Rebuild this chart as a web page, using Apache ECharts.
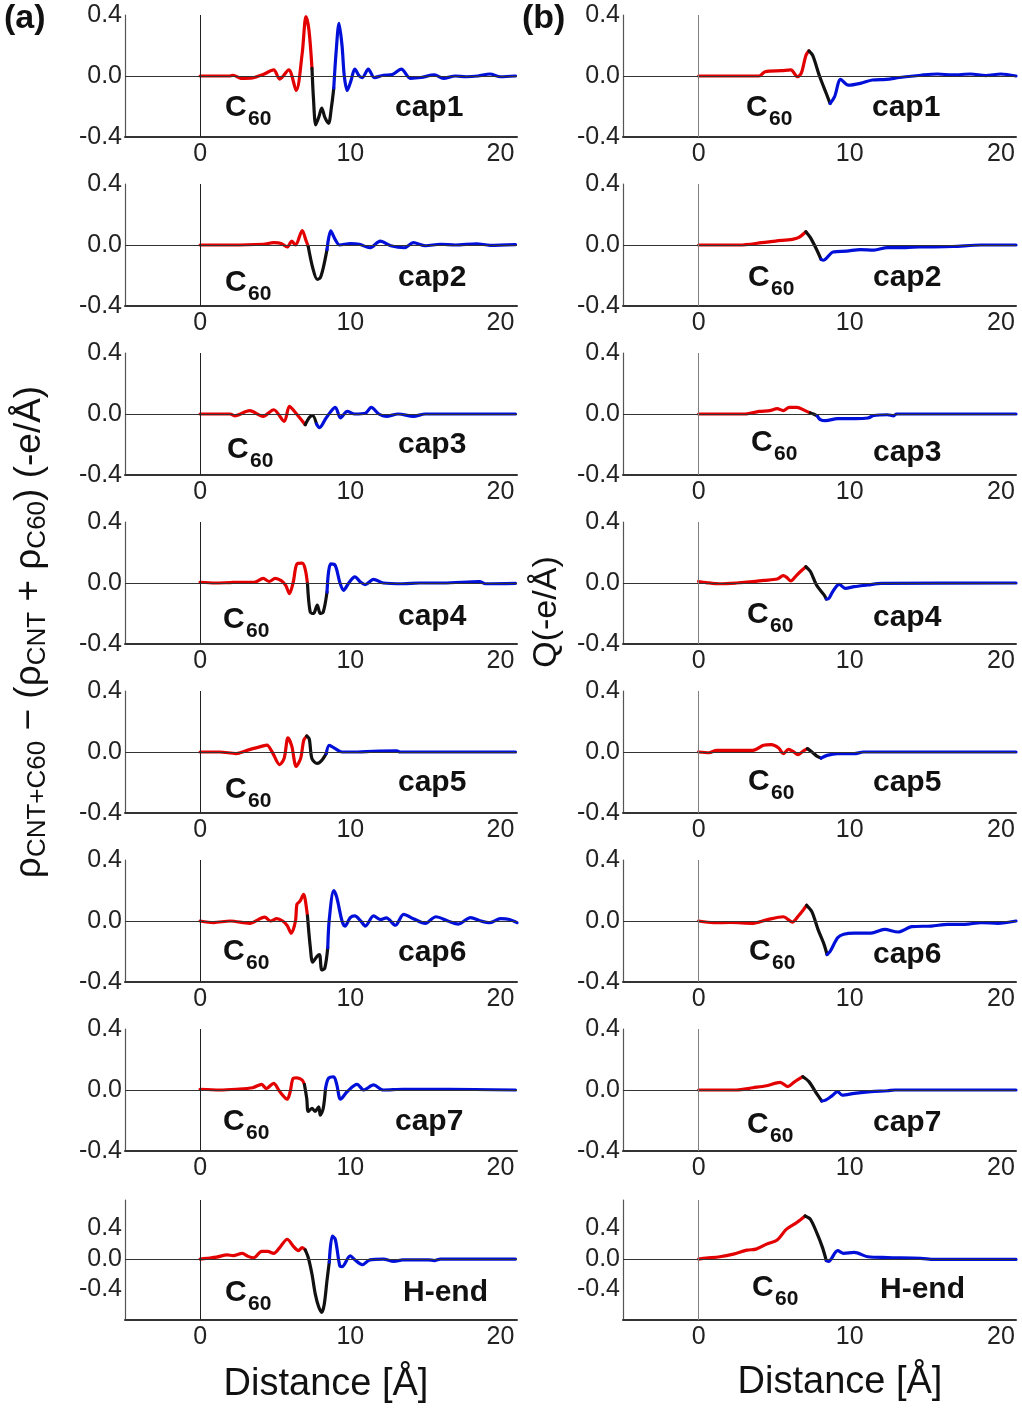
<!DOCTYPE html>
<html>
<head>
<meta charset="utf-8">
<script src="https://cdn.jsdelivr.net/npm/echarts@6.0.0/dist/echarts.min.js"></script>
<style>
  html, body { margin: 0; background: #fff; }
  #chart { width: 1022px; height: 1409px; }
</style>
</head>
<body>
<div id="chart"></div>
<script>
// axis ticks / names
const xTicks = [0, 10, 20];
const yTicks = [-0.4, 0, 0.4];
const panelNames = ["cap1", "cap2", "cap3", "cap4", "cap5", "cap6", "cap7", "H-end"];

// (a) charge density difference, [distance, value]
const rhoCap1 = [[0,0],[1,0],[2,0],[2.2,0.005],[2.7,-0.015],[3.5,-0.012],[4.2,0.01],[4.9,0.04],[5.3,-0.02],[5.9,0.04],[6.4,-0.095],[6.8,0.15],[7.05,0.39],[7.25,0.3],[7.45,0.05],
  [7.55,-0.15],[7.7,-0.32],[7.9,-0.27],[8.1,-0.21],[8.3,-0.27],[8.55,-0.31],[8.75,-0.2],[8.9,-0.08],
  [9.05,0.15],[9.25,0.345],[9.45,0.2],[9.6,0.0],[9.8,-0.095],[10.05,-0.03],[10.3,0.045],[10.6,0.0],[10.8,-0.01],[11.2,0.045],[11.6,-0.01],[12.2,0.005],[12.8,0.01],[13.4,0.045],[14,-0.015],[14.7,-0.01],[15.6,0.007],[16.2,-0.015],[17,0.0],[17.7,-0.005],[18.5,0.0],[19.3,0.013],[20,-0.005],[21,0.0]];
const rhoCap2 = [[0,0],[2,0],[4.2,0.005],[4.9,0.015],[5.4,0.01],[5.8,-0.013],[6.1,0.025],[6.35,0.0],[6.8,0.095],[7.05,0.03],[7.2,-0.01],
  [7.5,-0.15],[7.8,-0.225],[8.0,-0.215],[8.2,-0.15],[8.45,-0.03],
  [8.7,0.092],[9.0,0.035],[9.3,0.0],[10,0.01],[10.6,0.005],[11.3,-0.018],[12,0.025],[12.7,-0.005],[13.6,-0.018],[14.2,0.015],[15,-0.005],[16,0.005],[17,0.0],[18.4,0.008],[19.3,-0.002],[21,0.003]];
const rhoCap3 = [[0,0],[2,0],[2.3,-0.012],[3.3,0.022],[4.2,-0.015],[4.9,0.028],[5.6,-0.048],[5.95,0.05],[6.3,0.015],[7.0,-0.07],
  [7.3,-0.02],[7.5,-0.01],[7.75,-0.065],
  [7.95,-0.09],[8.4,-0.025],[9.0,0.044],[9.35,-0.025],[9.8,0.017],[10.3,0.0],[11,0.005],[11.4,0.044],[11.9,0.0],[12.4,-0.015],[13.2,0.0],[14.2,-0.015],[15,0.0],[21,0.0]];
const rhoCap4 = [[0,0.005],[1,0.0],[2,0.003],[3,0.005],[3.6,0.005],[4.2,0.03],[4.6,0.01],[5.0,0.03],[5.4,0.015],[5.7,-0.015],[5.95,-0.07],[6.2,0.005],[6.45,0.125],[6.8,0.13],[7.0,0.09],[7.15,-0.005],
  [7.33,-0.19],[7.55,-0.2],[7.8,-0.145],[8.0,-0.2],[8.2,-0.19],[8.45,-0.06],
  [8.55,0.07],[8.7,0.125],[9.0,0.115],[9.3,0.005],[9.55,-0.048],[9.9,0.0],[10.3,0.04],[10.7,0.005],[11.0,-0.01],[11.55,0.024],[12.2,0.0],[13.5,-0.005],[14.6,0.0],[16.2,0.0],[18.6,0.01],[19.0,-0.005],[21,-0.002]];
const rhoCap5 = [[0,0],[1.3,0.0],[2.4,-0.01],[3.1,0.01],[4.2,0.04],[4.45,0.045],[4.8,0.0],[5.3,-0.083],[5.6,-0.04],[5.85,0.092],[6.1,0.04],[6.4,-0.094],[6.7,-0.04],[6.9,0.077],[7.1,0.105],
  [7.27,0.085],[7.45,-0.045],[7.8,-0.075],[8.1,-0.055],[8.4,-0.01],
  [8.6,0.044],[9.0,0.022],[9.45,0.0],[10.5,0.0],[11.5,0.005],[13.1,0.008],[13.3,0.0],[21,0.0]];
const rhoCap6 = [[0,0],[0.9,-0.01],[2,0.0],[3.3,-0.015],[4.3,0.026],[4.7,0.0],[5.1,0.015],[5.5,0.0],[5.8,-0.03],[6.07,-0.08],[6.35,0.0],[6.45,0.11],[6.65,0.13],[6.9,0.175],[7.0,0.14],[7.15,0.033],
  [7.33,-0.165],[7.5,-0.27],[7.8,-0.23],[7.95,-0.22],[8.1,-0.32],[8.3,-0.31],[8.5,-0.175],
  [8.6,0.01],[8.9,0.2],[9.1,0.155],[9.45,0.0],[9.65,-0.033],[10,0.022],[10.3,0.033],[10.7,0.0],[11,-0.033],[11.55,0.033],[12,0.01],[12.4,0.02],[13,-0.028],[13.55,0.044],[14.2,0.015],[15,-0.015],[15.7,0.028],[16.5,0.0],[17.2,-0.02],[18,0.022],[18.7,0.0],[19.3,-0.011],[20,0.015],[20.6,0.01],[21.1,-0.011]];
const rhoCap7 = [[0,0.005],[1.3,0.0],[2.4,0.005],[3.5,0.015],[4.1,0.037],[4.4,0.01],[4.9,0.044],[5.3,-0.01],[5.8,-0.06],[6.0,-0.01],[6.2,0.077],[6.45,0.08],[6.8,0.065],[6.95,0.035],
  [7.1,-0.055],[7.2,-0.14],[7.45,-0.12],[7.65,-0.14],[7.9,-0.11],[8.0,-0.165],[8.2,-0.12],[8.35,0.01],
  [8.55,0.077],[8.9,0.087],[9.1,0.035],[9.35,-0.06],[9.8,-0.01],[10.45,0.037],[10.9,0.0],[11.55,0.033],[12.2,0.0],[13.5,0.005],[16.5,0.005],[21,0.0]];
const rhoHend = [[0,0],[0.45,0.01],[1.1,0.025],[1.8,0.055],[2.2,0.045],[2.8,0.075],[3.2,0.035],[3.55,0.015],[4.1,0.1],[4.5,0.1],[4.9,0.075],[5.3,0.15],[5.8,0.26],[6.2,0.17],[6.55,0.11],[6.8,0.15],[7.0,0.12],
  [7.2,0.02],[7.45,-0.2],[7.67,-0.46],[7.9,-0.63],[8.1,-0.7],[8.27,-0.59],[8.45,-0.28],[8.6,-0.04],
  [8.8,0.3],[9.0,0.26],[9.3,-0.09],[9.45,-0.1],[10.0,0.043],[10.3,-0.01],[10.8,-0.075],[11.3,-0.01],[12.2,0.0],[12.9,-0.03],[13.5,-0.01],[15.2,-0.01],[15.6,-0.02],[16,0.0],[21,0.0]];

// (b) integrated charge Q
const qCap1 = [[0,0],[2,0.0],[4.0,0.0],[4.4,0.028],[5.5,0.035],[6.1,0.04],[6.55,-0.005],[6.8,0.02],[7.1,0.135],[7.3,0.165],
  [7.55,0.135],[8.0,0.0],[8.45,-0.115],[8.7,-0.18],
  [9.0,-0.135],[9.4,-0.022],[9.9,-0.06],[10.7,-0.048],[11.5,-0.026],[12.4,-0.022],[13.3,-0.01],[14.7,0.005],[15.8,0.013],[16.8,0.007],[18,0.013],[19,0.003],[20,0.013],[21,0.0]];
const qCap2 = [[0,0],[2.7,0.0],[4.2,0.015],[5.1,0.026],[6.2,0.037],[6.6,0.048],[7.1,0.087],
  [7.4,0.048],[7.8,-0.028],[8.1,-0.094],
  [8.25,-0.1],[8.9,-0.046],[9.8,-0.04],[10.7,-0.03],[11.6,-0.033],[12.5,-0.017],[13.7,-0.017],[14.6,-0.013],[16.8,-0.01],[18.7,0.0],[21,0.0]];
const qCap3 = [[0,0],[3.1,0.0],[4.0,0.017],[4.7,0.022],[5.2,0.035],[5.6,0.022],[6.0,0.044],[6.5,0.044],[7.05,0.022],[7.4,0.007],
  [7.6,0.0],[7.85,-0.012],
  [8.05,-0.037],[8.4,-0.044],[9.2,-0.03],[10.3,-0.03],[11.2,-0.026],[11.6,-0.01],[12.5,-0.005],[12.9,-0.012],[13.1,0.0],[21,0.0]];
const qCap4 = [[0,0.01],[0.5,0.003],[1.4,-0.005],[2.5,0.0],[3.6,0.009],[4.3,0.017],[5.2,0.026],[5.6,0.048],[5.85,0.035],[6.1,0.013],[6.5,0.052],[6.85,0.085],[7.1,0.107],
  [7.4,0.075],[7.8,-0.013],[8.3,-0.078],[8.45,-0.105],
  [8.55,-0.105],[8.9,-0.052],[9.3,-0.009],[9.7,-0.035],[10.3,-0.024],[11.2,-0.013],[12.1,-0.002],[21,0.0]];
const qCap5 = [[0,0],[0.7,-0.005],[1.2,0.011],[3.6,0.011],[4.3,0.044],[4.8,0.048],[5.3,0.026],[5.6,-0.011],[5.95,0.017],[6.3,0.0],[6.6,-0.018],[6.9,0.005],[7.2,0.022],
  [7.5,0.0],[7.8,-0.025],[8.1,-0.04],
  [8.5,-0.022],[9.2,-0.011],[10.3,-0.011],[10.9,0.0],[21,0.0]];
const qCap6 = [[0,0],[1.0,-0.011],[2.1,-0.01],[3.6,-0.015],[4.5,0.007],[5.6,0.028],[6.2,-0.007],[6.6,0.033],[6.95,0.076],[7.15,0.103],
  [7.5,0.06],[7.9,-0.055],[8.3,-0.153],[8.5,-0.22],
  [8.7,-0.2],[9.2,-0.11],[9.6,-0.087],[10.3,-0.08],[11.4,-0.08],[12.3,-0.055],[13.2,-0.072],[14.1,-0.037],[15.4,-0.033],[16.5,-0.022],[17.6,-0.022],[18.7,-0.011],[19.8,-0.015],[21,0.0]];
const qCap7 = [[0,0],[2.5,0.0],[3.6,0.015],[4.5,0.028],[5.4,0.05],[5.9,0.022],[6.3,0.05],[6.9,0.087],
  [7.3,0.055],[7.8,-0.022],[8.15,-0.072],
  [8.4,-0.066],[8.8,-0.04],[9.2,-0.011],[9.5,-0.033],[10.3,-0.022],[11.4,-0.011],[12.5,-0.005],[13,0.0],[21,0.0]];
const qHend = [[0,0],[0.5,0.013],[1.4,0.03],[2.3,0.065],[3.2,0.117],[3.8,0.13],[4.5,0.196],[5.2,0.25],[5.8,0.39],[6.5,0.48],[7.05,0.565],
  [7.4,0.52],[7.85,0.33],[8.2,0.15],[8.45,-0.02],
  [8.6,-0.03],[9.2,0.11],[9.6,0.075],[10.3,0.087],[11.2,0.03],[12.5,0.02],[14.7,0.01],[15.6,-0.005],[21,-0.005]];

// distance where the curve turns red -> black and black -> blue
const rhoCuts = [[7.45,8.9],[7.2,8.45],[7.0,7.75],[7.15,8.45],[7.1,8.4],[7.15,8.5],[6.95,8.35],[7.0,8.6]];
const qCuts = [[7.3,8.7],[7.1,8.1],[7.4,7.85],[7.1,8.45],[7.2,8.1],[7.15,8.5],[6.9,8.15],[7.05,8.45]];

const rhoCurves = [rhoCap1, rhoCap2, rhoCap3, rhoCap4, rhoCap5, rhoCap6, rhoCap7, rhoHend];
const qCurves = [qCap1, qCap2, qCap3, qCap4, qCap5, qCap6, qCap7, qHend];

// label placement: [C60 left, C60 baseline, name left, name baseline]
const rhoLabelPos = [[225,118,395,118],[225,293,398,288],[227,460,398,455],[223,630,398,627],[225,800,398,793],[223,962,398,963],[223,1132,395,1132],[225,1303,403,1303]];
const qLabelPos = [[746,118,872,118],[748,288,873,288],[751,453,873,463],[747,625,873,628],[748,792,873,793],[749,962,873,965],[747,1135,873,1133],[752,1298,880,1300]];

const FONT = '"Liberation Sans", Arial, sans-serif';
const RED = "#e30000";
const BLACK = "#111111";
const BLUE = "#0010d8";

const grids = [];
const xAxes = [];
const yAxes = [];
const series = [];
const graphics = [];

function boldText(str, x, base, size) {
    graphics.push({
        type: "text",
        silent: true,
        style: {
            text: str, x: x, y: base - 0.35 * size,
            align: "left", verticalAlign: "middle",
            fill: "#111", font: "bold " + size + "px " + FONT,
        },
    });
}

function addPanel(col, row, pts, cut, pos) {
    const i = grids.length;
    const last = row === 7;
    grids.push({
        left: col === 0 ? 125 : 623,
        width: col === 0 ? 392 : 393,
        top: last ? 1200 : 15 + 169 * row,
        height: last ? 120 : 122,
        containLabel: false,
        outerBoundsMode: "none",
    });
    xAxes.push({
        gridIndex: i,
        type: "value",
        min: -5,
        max: col === 0 ? 21.1 : 21,
        axisLine: { show: true, onZero: false, lineStyle: { color: "#333", width: 2 } },
        axisTick: { show: false },
        splitLine: { show: false },
        axisLabel: { customValues: xTicks, fontSize: 25, color: "#222", fontFamily: FONT, margin: 5 },
    });
    yAxes.push({
        gridIndex: i,
        type: "value",
        min: last ? -0.8 : -0.4,
        max: last ? 0.775 : 0.4,
        axisLine: { show: true, onZero: false, lineStyle: { color: "#555", width: 1.2 } },
        axisTick: { show: false },
        splitLine: { show: false },
        axisLabel: {
            customValues: yTicks, fontSize: 25, color: "#222", fontFamily: FONT, margin: 3,
            formatter: (v) => Number(v).toFixed(1),
        },
    });
    // zero lines
    series.push({
        type: "line",
        xAxisIndex: i,
        yAxisIndex: i,
        data: [],
        silent: true,
        z: 1,
        markLine: {
            silent: true,
            symbol: ["none", "none"],
            label: { show: false },
            animation: false,
            data: [
                { yAxis: 0, lineStyle: { color: "#333", width: 1, type: "solid" } },
                { xAxis: 0, lineStyle: { color: col === 0 ? "#222" : "#808080", width: 1, type: "solid" } },
            ],
        },
    });
    const parts = [
        pts.filter((p) => p[0] <= cut[0]),
        pts.filter((p) => p[0] >= cut[0] && p[0] <= cut[1]),
        pts.filter((p) => p[0] >= cut[1]),
    ];
    [RED, BLACK, BLUE].forEach((c, k) => {
        series.push({
            type: "line",
            xAxisIndex: i,
            yAxisIndex: i,
            data: parts[k],
            showSymbol: false,
            symbol: "none",
            smooth: 0.3,
            silent: true,
            z: 3,
            lineStyle: { color: c, width: 3.2, cap: "round", join: "round" },
            itemStyle: { color: c },
        });
    });
    // C60 and structure name
    boldText("C", pos[0], pos[1], 30);
    boldText("60", pos[0] + 23, pos[1] + 9, 21);
    boldText(panelNames[row], pos[2], pos[3], 30);
}

for (let r = 0; r < 8; r++) {
    addPanel(0, r, rhoCurves[r], rhoCuts[r], rhoLabelPos[r]);
    addPanel(1, r, qCurves[r], qCuts[r], qLabelPos[r]);
}

// panel tags and axis titles
graphics.push(
    { type: "text", silent: true, style: { text: "(a)", x: 4, y: 19, align: "left", verticalAlign: "middle", fill: "#111", font: "bold 34px " + FONT } },
    { type: "text", silent: true, style: { text: "(b)", x: 522, y: 19, align: "left", verticalAlign: "middle", fill: "#111", font: "bold 34px " + FONT } },
    { type: "text", silent: true, style: { text: "Distance [Å]", x: 326, y: 1385, align: "center", verticalAlign: "middle", fill: "#111", font: "38px " + FONT } },
    { type: "text", silent: true, style: { text: "Distance [Å]", x: 840, y: 1383, align: "center", verticalAlign: "middle", fill: "#111", font: "38px " + FONT } },
    {
        type: "text", silent: true, x: 547, y: 612, rotation: Math.PI / 2,
        style: { text: "Q(-e/Å)", x: 0, y: 0, align: "center", verticalAlign: "middle", fill: "#111", font: "34px " + FONT },
    },
    {
        type: "text", silent: true, x: 30, y: 632, rotation: Math.PI / 2,
        style: {
            text: "{m|ρ}{s|CNT+C60}{m| − (ρ}{s|CNT}{m| + ρ}{s|C60}{m|) (-e/Å)}",
            x: 0, y: 0, align: "center", verticalAlign: "middle",
            rich: {
                m: { fontSize: 37, fontFamily: FONT, fill: "#111", lineHeight: 42, verticalAlign: "middle" },
                s: { fontSize: 26, fontFamily: FONT, fill: "#111", lineHeight: 26, verticalAlign: "bottom" },
            },
        },
    }
);

const chart = echarts.init(document.getElementById("chart"), null, { renderer: "canvas" });
chart.setOption({
    animation: false,
    backgroundColor: "#fff",
    grid: grids,
    xAxis: xAxes,
    yAxis: yAxes,
    series: series,
    graphic: graphics,
});
</script>
</body>
</html>
